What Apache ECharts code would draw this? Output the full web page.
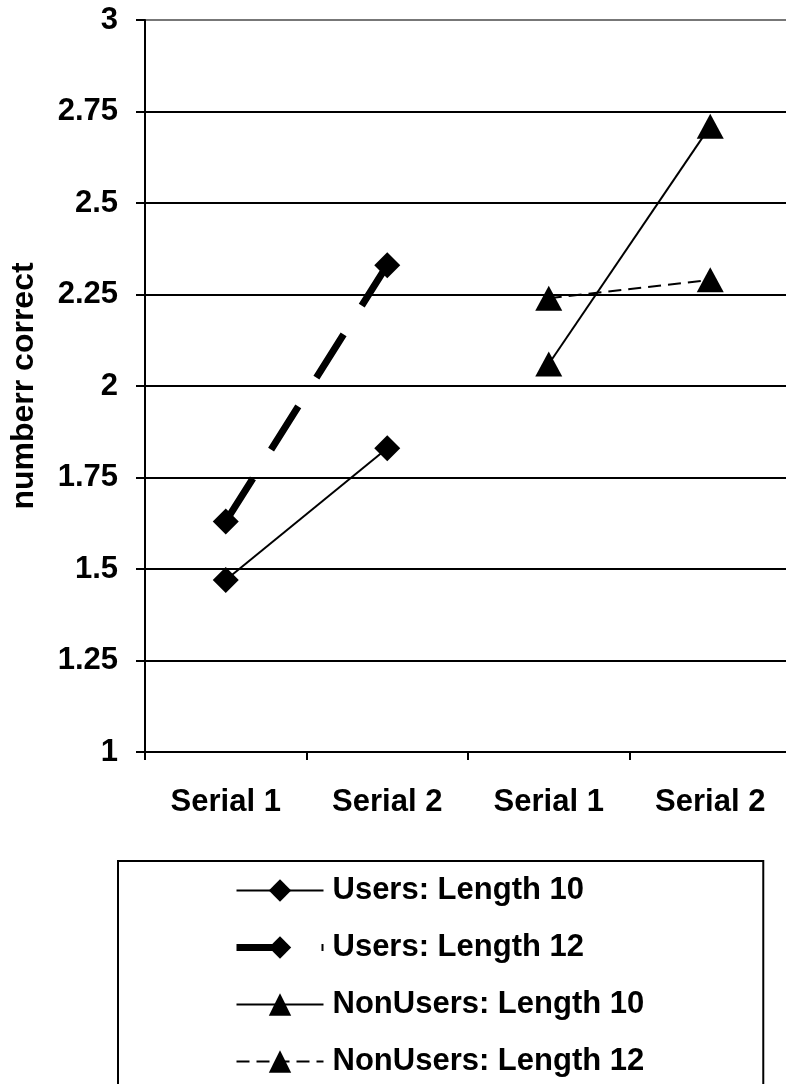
<!DOCTYPE html>
<html>
<head>
<meta charset="utf-8">
<style>html,body{margin:0;padding:0;background:#fff;}#c{width:786px;height:1084px;}</style>
<script src="https://cdn.jsdelivr.net/npm/echarts@6/dist/echarts.min.js"></script>
</head>
<body>
<div id="c"></div>
<script>
const categories = ['Serial 1', 'Serial 2', 'Serial 1', 'Serial 2'];
const usersLen10 = [1.47, 1.83, null, null];
const usersLen12 = [1.63, 2.33, null, null];
const nonUsersLen10 = [null, null, 2.06, 2.71];
const nonUsersLen12 = [null, null, 2.24, 2.29];
const seriesNames = ['Users: Length 10', 'Users: Length 12', 'NonUsers: Length 10', 'NonUsers: Length 12'];
const yMin = 1, yMax = 3, yStep = 0.25;

const font = 'Liberation Sans, Arial, sans-serif';
const chart = echarts.init(document.getElementById('c'), null, {renderer: 'canvas'});
const diamond = 'path://M0,-1L1,0L0,1L-1,0Z';
chart.setOption({
  animation: false,
  backgroundColor: '#fff',
  grid: {left: 145, right: -5, top: 20, bottom: 332, containLabel: false, outerBoundsMode: 'none'},
  xAxis: {
    type: 'category',
    data: categories,
    boundaryGap: true,
    axisLine: {lineStyle: {color: '#000', width: 2}},
    axisTick: {show: true, length: 8, lineStyle: {color: '#000', width: 2}},
    axisLabel: {color: '#000', fontFamily: font, fontWeight: 'bold', fontSize: 31, margin: 35}
  },
  yAxis: {
    type: 'value',
    min: yMin, max: yMax, interval: yStep,
    name: 'numberr correct',
    nameLocation: 'middle',
    nameRotate: 90,
    nameGap: 105,
    nameTextStyle: {color: '#000', fontFamily: font, fontWeight: 'bold', fontSize: 32},
    axisLine: {show: true, lineStyle: {color: '#000', width: 2}},
    axisTick: {show: true, length: 9, lineStyle: {color: '#000', width: 2}},
    axisLabel: {color: '#000', fontFamily: font, fontWeight: 'bold', fontSize: 31, margin: 27,
      formatter: v => String(+v.toFixed(2))},
    splitLine: {show: true, lineStyle: {color: ['#000','#000','#000','#000','#000','#000','#000','#000','#777'], width: 2}}
  },
  legend: {
    orient: 'vertical',
    left: 118, top: 861,
    height: 400,
    padding: [14, 119, 60, 115],
    itemGap: 26,
    itemWidth: 87, itemHeight: 28,
    borderColor: '#000', borderWidth: 2,
    data: [
      {name: seriesNames[0], lineStyle: {width: 2}},
      {name: seriesNames[1], lineStyle: {width: 7}},
      {name: seriesNames[2], lineStyle: {width: 2}},
      {name: seriesNames[3], lineStyle: {width: 2}}
    ],
    textStyle: {color: '#000', fontFamily: font, fontWeight: 'bold', fontSize: 31, padding: [0, 0, 0, 4]}
  },
  series: [
    {name: seriesNames[0], type: 'line', data: usersLen10, symbol: diamond, symbolSize: 26,
      lineStyle: {color: '#000', width: 2}, itemStyle: {color: '#000'}},
    {name: seriesNames[1], type: 'line', data: usersLen12, symbol: diamond, symbolSize: 26,
      lineStyle: {color: '#000', width: 7, type: [51, 34], cap: 'butt'}, itemStyle: {color: '#000'}},
    {name: seriesNames[2], type: 'line', data: nonUsersLen10, symbol: 'triangle', symbolSize: [27, 25],
      lineStyle: {color: '#000', width: 2}, itemStyle: {color: '#000'}},
    {name: seriesNames[3], type: 'line', data: nonUsersLen12, symbol: 'triangle', symbolSize: [27, 25],
      lineStyle: {color: '#000', width: 2, type: [13, 7]}, itemStyle: {color: '#000'}}
  ]
});
</script>
</body>
</html>
